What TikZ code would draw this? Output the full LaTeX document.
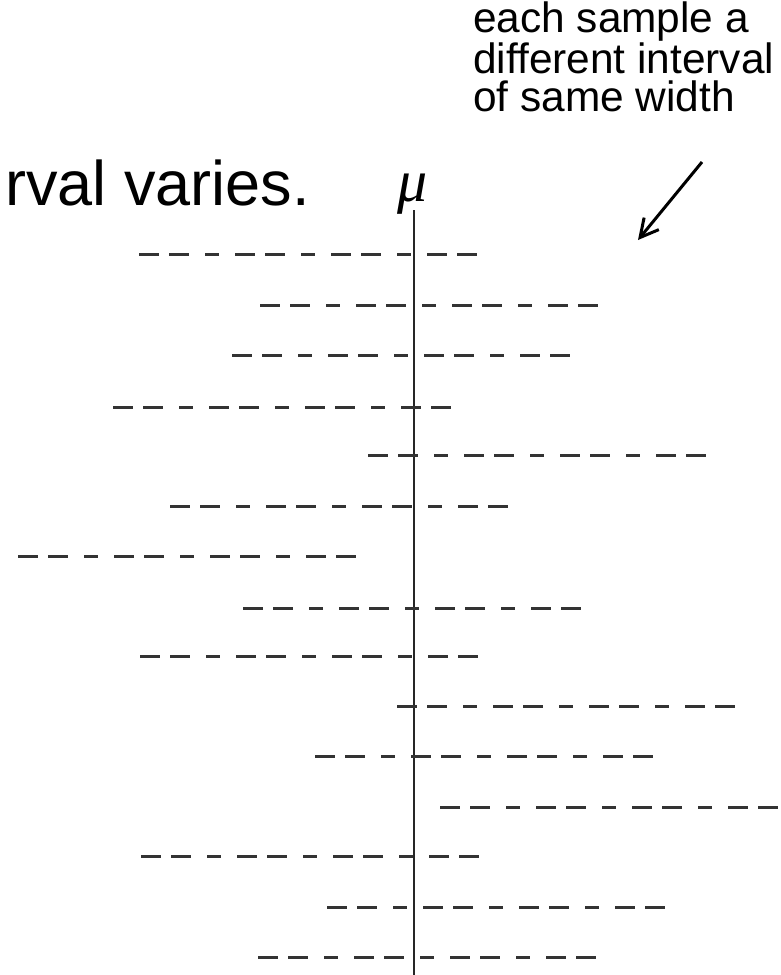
\documentclass[tikz,border=0pt]{standalone}
\usepackage{fontspec}
\setmainfont{Liberation Sans}
\newfontfamily\greekit{Liberation Serif}
\usetikzlibrary{arrows.meta}

\tikzset{
  interval/.style={line width=3pt, draw=black!80,
    dash pattern=on 20pt off 10pt on 20pt off 16pt on 14pt off 16pt},
  muline/.style={line width=2.5pt, draw=black!85},
  note/.style={anchor=base west, inner sep=0pt, align=left,
    font=\fontsize{42.4}{37.5}\selectfont},
  pointer/.style={line width=3pt, -{Straight Barb[length=18pt,width=19pt,line width=3pt]}}
}

\begin{document}
\begin{tikzpicture}[x=1pt,y=-1pt]
    \useasboundingbox (0,0) rectangle (781,975);
    % heading, cut off at the left
    \node[anchor=base west, inner sep=0pt, font=\fontsize{63}{70}\selectfont] (title) at (5,205) {rval varies.};
    % true mean
    \node[anchor=base, inner sep=0pt, font=\fontsize{60}{70}\selectfont\greekit\itshape] (mu) at (413,201) {μ};
    \coordinate (mutop) at (414,210);
    \coordinate (mubot) at (414,975);
    \draw[muline] (mutop) -- (mubot);
    % one interval per sample
    \foreach \x/\y in {139/254, 260/305, 232/355, 113/407, 368/455,
                       170/506, 18/556, 243/608, 140/656, 397/706,
                       315/756, 440/807, 141/856, 327/907, 258/957} {
        \draw[interval] (\x,\y) -- ++(342,0);
    }
    \node[note] (note) at (473,111) {each sample a\\different interval\\of same width};
    \coordinate (from) at (702,162);
    \coordinate (to) at (638,240);
    \draw[pointer] (from) -- (to);
\end{tikzpicture}
\end{document}
